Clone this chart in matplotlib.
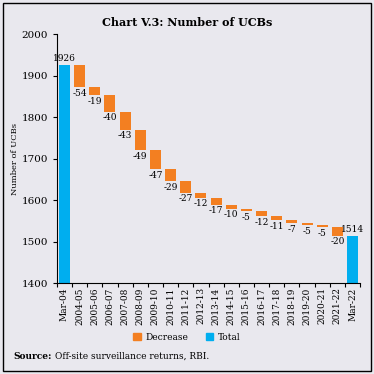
import numpy as np
import matplotlib.pyplot as plt
from matplotlib.patches import Rectangle, Patch

plt.rcParams["font.family"] = ["DejaVu Serif"]

categories = ["Mar-04", "2004-05", "2005-06", "2006-07", "2007-08", "2008-09",
              "2009-10", "2010-11", "2011-12", "2012-13", "2013-14", "2014-15",
              "2015-16", "2016-17", "2017-18", "2018-19", "2019-20", "2020-21",
              "2021-22", "Mar-22"]
start_total = 1926
decreases = [-54, -19, -40, -43, -49, -47, -29, -27, -12, -17, -10, -5,
             -12, -11, -7, -5, -5, -20]
end_total = 1514

BLUE = "#00aeef"
ORANGE = "#f37f21"
BG = "#e9e8ee"

fig = plt.figure(figsize=(3.74, 3.74), dpi=100, facecolor=BG)
ax = fig.add_axes([0.152, 0.243, 0.811, 0.666], facecolor=BG)

x = np.arange(len(categories))
w = 0.72

# totals
ax.bar(x[0], start_total - 1400, bottom=1400, width=w, color=BLUE)
ax.bar(x[-1], end_total - 1400, bottom=1400, width=w, color=BLUE)
ax.text(x[0], start_total + 4, str(start_total), ha="center", va="bottom", fontsize=6.5)
ax.text(x[-1], end_total + 4, str(end_total), ha="center", va="bottom", fontsize=6.5)

# decreases as floating bars
level = start_total
for i, d in enumerate(decreases, start=1):
    ax.bar(x[i], d, bottom=level, width=w, color=ORANGE)
    ax.text(x[i], level + d - 4, str(d), ha="center", va="top", fontsize=6.5)
    level += d

ax.set_xlim(-0.5, len(categories) - 0.5)
ax.set_ylim(1400, 2000)
ax.set_yticks([1400, 1500, 1600, 1700, 1800, 1900, 2000])
ax.tick_params(axis="y", labelsize=7.5, length=3, width=0.8)
ax.set_xticks(x)
ax.set_xticklabels(categories, rotation=90, fontsize=6.5)
ax.tick_params(axis="x", length=0, pad=3)
ax.set_xticks(np.arange(-0.5, len(categories)), minor=True)
ax.tick_params(axis="x", which="minor", length=3, width=0.8)
ax.set_ylabel("Number of UCBs", fontsize=6)
ax.yaxis.set_label_coords(-0.125, 0.5)

for s in ["top", "right"]:
    ax.spines[s].set_visible(False)

fig.text(0.5, 0.94, "Chart V.3: Number of UCBs", ha="center", va="center",
         fontsize=8, fontweight="bold")

handles = [Patch(color=ORANGE, label="Decrease"), Patch(color=BLUE, label="Total")]
fig.legend(handles=handles, loc="center", bbox_to_anchor=(0.5, 0.098), ncol=2,
           frameon=False, fontsize=6.5, handlelength=0.8, handleheight=0.8,
           columnspacing=2.0, handletextpad=0.5)

src = fig.text(0.035, 0.048, "Source:", fontsize=6.5, fontweight="bold",
               ha="left", va="center")
fig.canvas.draw()
bb = src.get_window_extent().transformed(fig.transFigure.inverted())
fig.text(bb.x1 + 0.008, 0.048, "Off-site surveillance returns, RBI.",
         fontsize=6.5, ha="left", va="center")

fig.patches.append(Rectangle((0.008, 0.008), 0.984, 0.984, transform=fig.transFigure,
                             fill=False, edgecolor="black", linewidth=1.0))

fig.savefig("out.png", dpi=100, facecolor=BG)
